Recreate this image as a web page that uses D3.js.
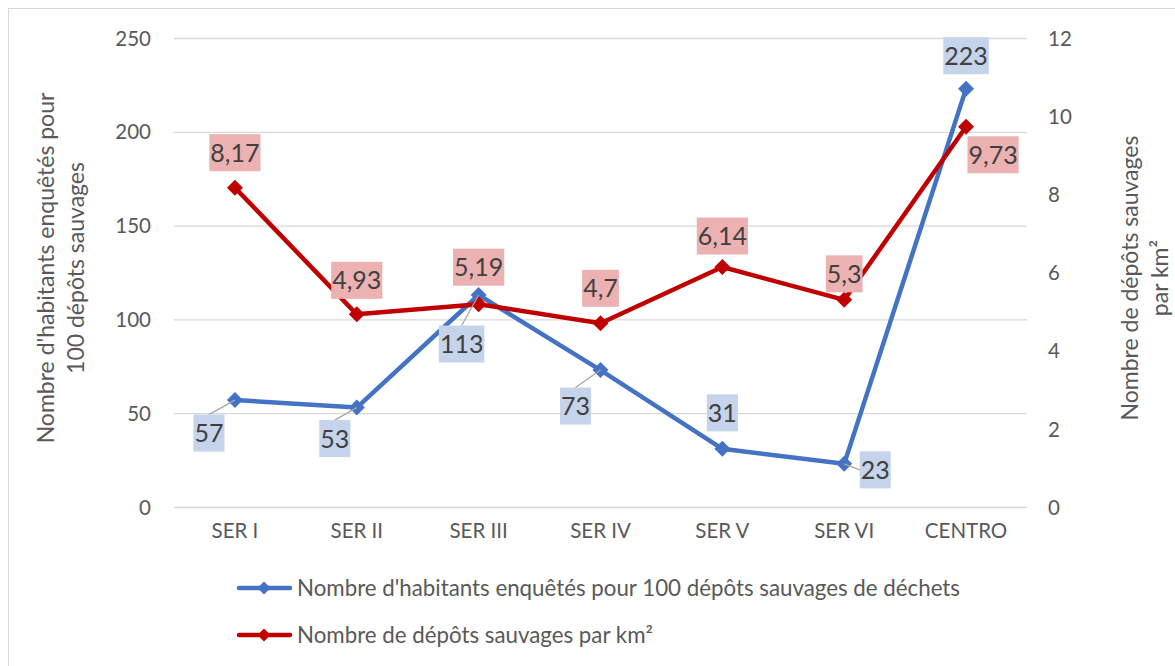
<!DOCTYPE html>
<html>
<head>
<meta charset="utf-8">
<script src="https://cdn.jsdelivr.net/npm/d3@7"></script>
<style>
  html, body { margin: 0; padding: 0; background: #fff; }
  svg { display: block; font-family: Lato, "Open Sans", sans-serif; }
</style>
</head>
<body>
<svg id="chart" width="1175" height="666"></svg>
<script>
// Sectors of the city
const categories = ["SER I", "SER II", "SER III", "SER IV", "SER V", "SER VI", "CENTRO"];

// Inhabitants surveyed per 100 illegal dumps (left axis)
const habitants = [57, 53, 113, 73, 31, 23, 223];
// Illegal dumps per km² (right axis)
const depots = [8.17, 4.93, 5.19, 4.7, 6.14, 5.3, 9.73];

// Axis ticks
const leftTicks = [0, 50, 100, 150, 200, 250];
const rightTicks = [0, 2, 4, 6, 8, 10, 12];

// Series names
const seriesNames = [
  "Nombre d'habitants enquêtés pour 100 dépôts sauvages de déchets",
  "Nombre de dépôts sauvages par km²"
];

// Label placement (offset of label centre from its marker) and leader lines
const habLabelOffset = [[-26, 33], [-22, 31], [-17, 49], [-25, 36], [0, -36], [31, 6], [0, -33]];
const habLeader = [true, true, true, true, false, true, false];
const depLabelOffset = [[0, -35], [0, -34], [0, -37], [0, -35], [0, -31], [0, -26], [27, 28]];

const blue = "#4472C4", red = "#C00000";
const textCol = "#404040", tickCol = "#595959";

const svg = d3.select("#chart");

// chart frame
svg.append("rect").attr("x", 8.5).attr("y", 8.5).attr("width", 1200).attr("height", 700)
  .attr("fill", "none").attr("stroke", "#d9d9d9").attr("stroke-width", 1);

const plot = { left: 174, right: 1027, top: 38, bottom: 507 };

const x = d3.scaleBand().domain(categories).range([plot.left, plot.right]);
const yL = d3.scaleLinear().domain([0, 250]).range([plot.bottom, plot.top]);
const yR = d3.scaleLinear().domain([0, 12]).range([plot.bottom, plot.top]);
const cx = c => x(c) + x.bandwidth() / 2;

// gridlines
svg.append("g").selectAll("line").data(leftTicks).join("line")
  .attr("x1", plot.left).attr("x2", plot.right)
  .attr("y1", d => yL(d) + 0.5).attr("y2", d => yL(d) + 0.5)
  .attr("stroke", "#d9d9d9").attr("stroke-width", 1.3);

// left axis
const axL = svg.append("g").attr("transform", `translate(${plot.left - 21},0)`)
  .call(d3.axisLeft(yL).tickValues(leftTicks).tickSize(0).tickPadding(2));
axL.select(".domain").remove();
axL.selectAll("text").attr("font-size", 20.5).attr("fill", tickCol).attr("font-family", "Lato").attr("dy", "0.35em");

// right axis
const axR = svg.append("g").attr("transform", `translate(${plot.right + 19},0)`)
  .call(d3.axisRight(yR).tickValues(rightTicks).tickSize(0).tickPadding(2));
axR.select(".domain").remove();
axR.selectAll("text").attr("font-size", 20.5).attr("fill", tickCol).attr("font-family", "Lato").attr("dy", "0.35em");

// category axis
const axB = svg.append("g").attr("transform", `translate(0,${plot.bottom})`)
  .call(d3.axisBottom(x).tickSize(0).tickPadding(24));
axB.select(".domain").remove();
axB.selectAll("text").attr("font-size", 20.5).attr("fill", tickCol).attr("font-family", "Lato").attr("dy", "0.35em");

// axis titles
const titleL = svg.append("text").attr("transform", "translate(61,268) rotate(-90)")
  .attr("text-anchor", "middle").attr("font-size", 23).attr("fill", tickCol);
titleL.append("tspan").attr("x", 0).attr("dy", -7).text("Nombre d'habitants enquêtés pour");
titleL.append("tspan").attr("x", 0).attr("dy", 30).text("100 dépôts sauvages");

const titleR = svg.append("text").attr("transform", "translate(1145,278) rotate(-90)")
  .attr("text-anchor", "middle").attr("font-size", 23).attr("fill", tickCol);
titleR.append("tspan").attr("x", 0).attr("dy", -7).text("Nombre de dépôts sauvages");
titleR.append("tspan").attr("x", 0).attr("dy", 30).text("par km²");

const diamond = r => `M0,${-r}L${r},0L0,${r}L${-r},0Z`;

function drawSeries(values, yScale, color) {
  const pts = values.map((v, i) => [cx(categories[i]), yScale(v)]);
  svg.append("path").datum(pts)
    .attr("d", d3.line())
    .attr("fill", "none").attr("stroke", color).attr("stroke-width", 4.5)
    .attr("stroke-linejoin", "round").attr("stroke-linecap", "round");
  svg.append("g").selectAll("path").data(pts).join("path")
    .attr("transform", d => `translate(${d[0]},${d[1]})`)
    .attr("d", diamond(8)).attr("fill", color);
  return pts;
}

const habPts = drawSeries(habitants, yL, blue);
const depPts = drawSeries(depots, yR, red);

const fmt = v => String(v).replace(".", ",");

function drawLabels(values, pts, offsets, bg, leaders) {
  const g = svg.append("g");
  values.forEach((v, i) => {
    const [px, py] = pts[i];
    const lx = px + offsets[i][0], ly = py + offsets[i][1];
    const t = g.append("text").attr("x", lx).attr("y", ly).attr("dy", "0.36em")
      .attr("text-anchor", "middle").attr("font-size", 25).attr("fill", textCol)
      .text(fmt(v));
    const bb = t.node().getBBox();
    const padX = 1;
    const box = { x: bb.x - padX, y: ly - 18.5, w: bb.width + 2 * padX, h: 37 };
    if (leaders && leaders[i]) {
      let sx, sy;
      if (offsets[i][1] > 20) { sx = lx; sy = box.y; }
      else { sx = box.x; sy = ly; }
      g.insert("line", "text").attr("x1", sx).attr("y1", sy).attr("x2", px).attr("y2", py)
        .attr("stroke", "#a6a6a6").attr("stroke-width", 1.3);
    }
    g.insert("rect", "text").attr("x", box.x).attr("y", box.y).attr("width", box.w).attr("height", box.h)
      .attr("fill", bg);
    t.raise();
  });
}

drawLabels(habitants, habPts, habLabelOffset, "#c5d3eb", habLeader);
drawLabels(depots, depPts, depLabelOffset, "#ecb2b2", null);

// legend
const legend = svg.append("g");
[[blue, 588], [red, 635]].forEach(([c, ly], i) => {
  legend.append("line").attr("x1", 239).attr("x2", 290).attr("y1", ly).attr("y2", ly)
    .attr("stroke", c).attr("stroke-width", 4.5).attr("stroke-linecap", "round");
  legend.append("path").attr("transform", `translate(264,${ly})`).attr("d", diamond(6.5)).attr("fill", c);
  legend.append("text").attr("x", 297).attr("y", ly).attr("dy", "0.35em")
    .attr("font-size", 22.3).attr("fill", tickCol).text(seriesNames[i]);
});
</script>
</body>
</html>
